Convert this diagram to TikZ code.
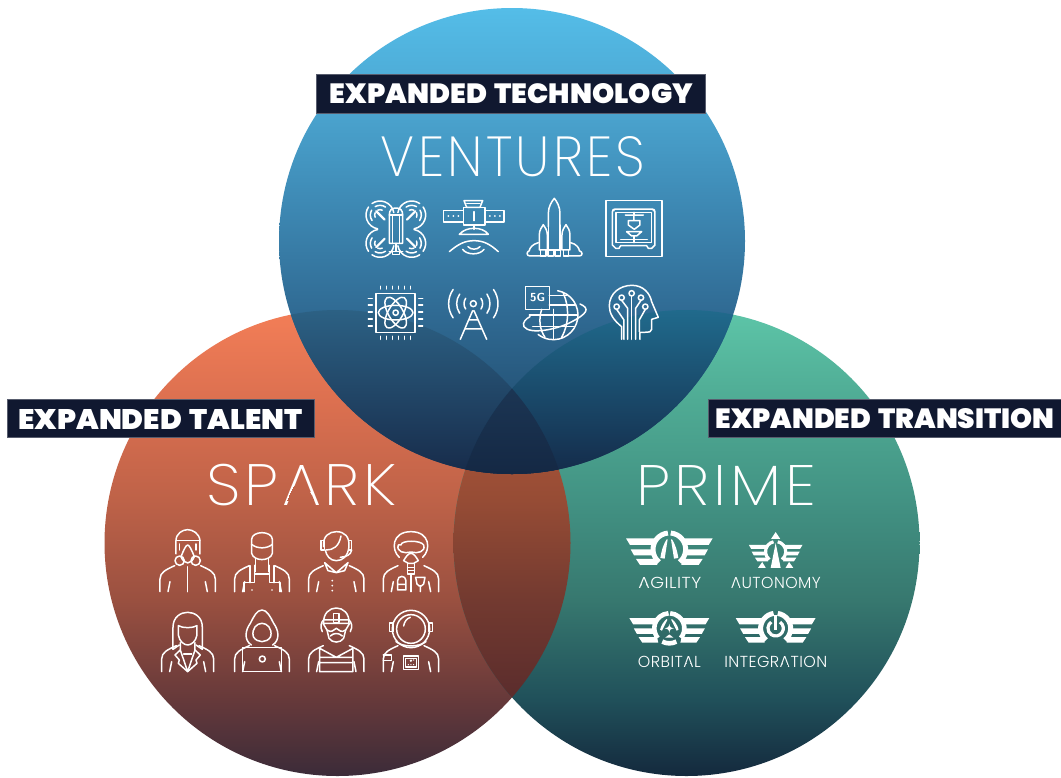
\documentclass[tikz,border=0pt]{standalone}
\usepackage{fontspec}
\usepackage{graphicx}
\usetikzlibrary{calc}
\newfontfamily\heavyfont[WordSpace=1.5]{Poppins Black}
\newfontfamily\thinfont[LetterSpace=6]{Poppins ExtraLight}
\newfontfamily\thinbase{Poppins ExtraLight}
\newfontfamily\smallfont[LetterSpace=3]{Poppins Light}
\newfontfamily\smallbase{Poppins Light}
\newsavebox\Abox\newsavebox\Pbox\newsavebox\Qbox\newsavebox\Wbox
\newlength\AW\newlength\AH\newlength\AT\newlength\APX
% a word whose A has its crossbar cut away by a clip: #1 font, #2 font without spacing, #3 stem (em), #4 text before the A, #5 text after it
\newcommand\nbword[5]{%
 \sbox\Abox{#2A}\AW=\wd\Abox\AH=\ht\Abox
 \sbox\Pbox{#1#4A}\sbox\Qbox{#1A}\APX=\wd\Pbox\advance\APX by -\wd\Qbox
 \sbox\Wbox{#1#4A#5}{#2\global\AT=#3em\relax}%
 \tikz[baseline=0pt,x=1cm,y=1cm]{%
  \useasboundingbox (0pt,0pt) rectangle ({\wd\Wbox},{\AH});
  \begin{scope}[even odd rule]
  \clip (-5pt,-5pt) rectangle ({\wd\Wbox+5pt},{\AH+5pt})
   ({\APX+.06*\AW+\AT},{.10*\AH}) -- ({\APX+.94*\AW-\AT},{.10*\AH}) -- ({\APX+.76*\AW-\AT},{.48*\AH}) -- ({\APX+.24*\AW+\AT},{.48*\AH}) -- cycle;
  \node[inner sep=0pt,anchor=base west,text=white] at (0pt,0pt) {#1#4A#5};
  \end{scope}}}
\definecolor{lblue}{HTML}{101830}
\definecolor{Tc0}{HTML}{1C385C}\definecolor{Tc1}{HTML}{255478}\definecolor{Tc2}{HTML}{306B94}\definecolor{Tc3}{HTML}{3E8AB5}\definecolor{Tc4}{HTML}{4CA7D2}\definecolor{Tc5}{HTML}{54BDE8}
\definecolor{Lc0}{HTML}{3B2B39}\definecolor{Lc1}{HTML}{66393A}\definecolor{Lc2}{HTML}{9A5040}\definecolor{Lc3}{HTML}{BE6248}\definecolor{Lc4}{HTML}{DC7050}\definecolor{Lc5}{HTML}{F37E57}
\definecolor{Rc0}{HTML}{14293D}\definecolor{Rc1}{HTML}{20505A}\definecolor{Rc2}{HTML}{37786F}\definecolor{Rc3}{HTML}{429283}\definecolor{Rc4}{HTML}{4FAB94}\definecolor{Rc5}{HTML}{5DC5A8}
\definecolor{Xc0}{HTML}{4A2A2C}\definecolor{Xc1}{HTML}{5A2C2C}\definecolor{Xc2}{HTML}{733A30}\definecolor{Xc3}{HTML}{964C35}\definecolor{Xc4}{HTML}{B0563A}\definecolor{Xc5}{HTML}{B0563A}
\definecolor{TLa}{HTML}{2C6184}\definecolor{TLb}{HTML}{172B4A}
\definecolor{TRa}{HTML}{206A8C}\definecolor{TRb}{HTML}{142B4A}
\definecolor{TTa}{HTML}{1C3654}\definecolor{TTb}{HTML}{142844}
\pgfdeclareverticalshading{sTop}{100bp}{color(0bp)=(Tc0);color(25bp)=(Tc0);color(32.9bp)=(Tc1);color(42.6bp)=(Tc2);color(54.4bp)=(Tc3);color(65.1bp)=(Tc4);color(75bp)=(Tc5);color(100bp)=(Tc5)}
\pgfdeclareverticalshading{sLeft}{100bp}{color(0bp)=(Lc0);color(25bp)=(Lc0);color(33.15bp)=(Lc1);color(43.9bp)=(Lc2);color(54.6bp)=(Lc3);color(65.3bp)=(Lc4);color(75bp)=(Lc5);color(100bp)=(Lc5)}
\pgfdeclareverticalshading{sRight}{100bp}{color(0bp)=(Rc0);color(25bp)=(Rc0);color(33.15bp)=(Rc1);color(43.9bp)=(Rc2);color(54.6bp)=(Rc3);color(65.3bp)=(Rc4);color(75bp)=(Rc5);color(100bp)=(Rc5)}
\pgfdeclareverticalshading{sCross}{100bp}{color(0bp)=(Xc0);color(25bp)=(Xc0);color(33.15bp)=(Xc1);color(43.9bp)=(Xc2);color(54.6bp)=(Xc3);color(65.3bp)=(Xc4);color(75bp)=(Xc5);color(100bp)=(Xc5)}
\tikzset{
 ic/.style={draw=white,line width=1.5pt,line cap=round,line join=round},
 fl/.style={fill=white,draw=none},
 banner/.style={fill=lblue,draw=lblue!70!white,line width=.4pt},
 bannertext/.style={text=white,inner sep=0pt},
 title/.style={text=white,inner sep=0pt},
 smalltext/.style={text=white!92!black,inner sep=0pt}
}
\newcommand\shld[2]{%
 \draw[ic] ({-#1},#2) -- ({-#1},{#2-38}) .. controls ({-#1},{#2-58}) and ({-#1+18},{#2-66}) .. ({-#1+44},{#2-78});
 \draw[ic] ({#1},#2) -- ({#1},{#2-38}) .. controls ({#1},{#2-58}) and ({#1-18},{#2-66}) .. ({#1-44},{#2-78});
 \draw[ic] ({-#1+24},#2) -- ({-#1+30},{#2-30});
 \draw[ic] ({#1-24},#2) -- ({#1-30},{#2-30});
}
\newcommand\wings{%
 \fill[fl] (-130,-33)--(-44,-33)--(-44,-13)--(-118,-13)--cycle;
 \fill[fl] (-116,0)--(-44,0)--(-44,18)--(-106,18)--cycle;
 \fill[fl] (-100,29)--(-40,29)--(-36,47)--(-88,47)--cycle;
 \fill[fl] (130,-33)--(44,-33)--(44,-13)--(118,-13)--cycle;
 \fill[fl] (116,0)--(44,0)--(44,18)--(106,18)--cycle;
 \fill[fl] (100,29)--(40,29)--(36,47)--(88,47)--cycle;
}
\begin{document}
\begin{tikzpicture}[x=1pt,y=-1pt]
\useasboundingbox (0,0) rectangle (1061,777);
\fill[white] (0,0) rectangle (1061,777);
% circles
\shade[shading=sLeft] (337.5,543) circle (233);
\shade[shading=sRight] (686.5,543) circle (233);
\begin{scope}
 \clip (337.5,543) circle (233);
 \clip (686.5,543) circle (233);
 \shade[shading=sCross] (300,310) rectangle (800,776);
\end{scope}
\shade[shading=sTop] (512,241) circle (233);
\begin{scope}
 \clip (512,241) circle (233);
 \clip (337.5,543) circle (233);
 \shade[top color=TLa,bottom color=TLb] (250,310) rectangle (600,474);
\end{scope}
\begin{scope}
 \clip (512,241) circle (233);
 \clip (686.5,543) circle (233);
 \shade[top color=TRa,bottom color=TRb] (450,310) rectangle (800,474);
\end{scope}
\begin{scope}
 \clip (512,241) circle (233);
 \clip (337.5,543) circle (233);
 \clip (686.5,543) circle (233);
 \shade[top color=TTa,bottom color=TTb] (400,385) rectangle (620,474);
\end{scope}
% banners
\node[banner,minimum width=389pt,minimum height=39pt,inner sep=0pt] (bTech) at (510.5,93.5) {};
\node[bannertext] (tTech) at (511.5,94) {\resizebox{363pt}{20pt}{\heavyfont EXPANDED TECHNOLOGY}};
\node[banner,minimum width=307pt,minimum height=38pt,inner sep=0pt] (bTal) at (160.5,418.5) {};
\node[bannertext] (tTal) at (160.5,419) {\resizebox{284pt}{20pt}{\heavyfont EXPANDED TALENT}};
\node[banner,minimum width=355pt,minimum height=38pt,inner sep=0pt] (bTra) at (885.5,418.5) {};
\node[bannertext] (tTra) at (885,419) {\resizebox{339pt}{20pt}{\heavyfont EXPANDED TRANSITION}};
% titles
\node[title] (tV) at (513,156.5) {\resizebox{264pt}{40pt}{\thinfont VENTURES}};
\node[title] (tS) at (300,485) {\resizebox{190pt}{40pt}{\nbword{\thinfont}{\thinbase}{.05}{SP}{RK}}};
\node[title] (tP) at (726.5,485) {\resizebox{179pt}{40pt}{\thinfont PRIME}};
% small labels
\node[smalltext] (a1) at (669.5,583) {\resizebox{63pt}{11pt}{\nbword{\smallfont}{\smallbase}{.08}{}{GILITY}}};
\node[smalltext] (a2) at (775.5,583) {\resizebox{90pt}{11pt}{\nbword{\smallfont}{\smallbase}{.08}{}{UTONOMY}}};
\node[smalltext] (a3) at (669,661.5) {\resizebox{63pt}{11pt}{\nbword{\smallfont}{\smallbase}{.08}{ORBIT}{L}}};
\node[smalltext] (a4) at (775.5,661.5) {\resizebox{103pt}{11pt}{\nbword{\smallfont}{\smallbase}{.08}{INTEGR}{TION}}};

%%%%% VENTURES ICONS (zoom units)
\begin{scope}[shift={(350,180)},x=.3333pt,y=-.3333pt]
 % drone
 \foreach \cx/\cy/\b in {90/105/45,185/105/135,90/190/-45,185/190/-135}{
  \draw[ic] (\cx,\cy)++(\b+55:42) arc[start angle=\b+55,end angle=\b+170,radius=42];
  \draw[ic] (\cx,\cy)++(\b-55:42) arc[start angle=\b-55,end angle=\b-170,radius=42];
  \draw[ic] (\cx,\cy)++(\b+100:29) arc[start angle=\b+100,end angle=\b+165,radius=29];
  \draw[ic] (\cx,\cy)++(\b-100:29) arc[start angle=\b-100,end angle=\b-165,radius=29];
  \draw[ic] (\cx,\cy)++(\b+110:16) arc[start angle=\b+110,end angle=\b+160,radius=16];
  \draw[ic] (\cx,\cy)++(\b-110:16) arc[start angle=\b-110,end angle=\b-160,radius=16];
  \draw[ic,line width=2.2pt] (\cx,\cy)++(\b:20) -- ++(\b+180:36);
 }
 \draw[ic] (118,190) -- (118,105) .. controls (118,90) and (125,84) .. (138,84) .. controls (151,84) and (158,90) .. (158,105) -- (158,190) -- cycle;
 \draw[ic] (128,105) -- (128,190) (148,105) -- (148,190) (118,105) -- (158,105);
 \draw[ic] (138,190) -- (138,212) (118,214) -- (158,214) (128,214) -- (128,224) -- (148,224) -- (148,214);
 % satellite
 \draw[ic] (280,91) rectangle (340,126);
 \draw[ic] (405,91) rectangle (462,126);
 \foreach \x in {295,310,325,420,435,450}{\fill[fl] (\x,108) circle (3);}
 \draw[ic] (340,82) rectangle (405,135);
 \draw[ic] (342,62) -- (398,62) -- (390,82) -- (350,82) -- cycle;
 \draw[ic] (350,70) -- (390,70);
 \draw[ic] (372,95) -- (372,122);
 \draw[ic] (372,135) -- (372,148);
 \draw[ic] (328,163) .. controls (340,150) and (355,145) .. (372,145) .. controls (390,145) and (405,150) .. (415,163) -- cycle;
 \draw[ic] (298,215) .. controls (325,192) and (345,182) .. (372,182) .. controls (400,182) and (420,192) .. (445,215);
 \draw[ic] (338,208) .. controls (350,226) and (390,226) .. (402,208);
 \draw[ic] (354,200) .. controls (362,210) and (382,210) .. (390,200);
 % rocket
 \draw[ic] (595,140) -- (595,100) .. controls (595,80) and (605,65) .. (613,55) .. controls (621,65) and (630,80) .. (630,100) -- (630,140);
 \draw[ic] (595,135) -- (595,210) -- (630,210) -- (630,135);
 \foreach \c in {580,648}{
  \draw[ic] ({\c-12},210) -- ({\c-12},165) .. controls ({\c-12},150) and ({\c-5},142) .. (\c,134) .. controls ({\c+5},142) and ({\c+12},150) .. ({\c+12},165) -- ({\c+12},210) -- cycle;
 }
 \foreach \c in {580,602,623,648}{\draw[ic] ({\c-8},210) -- ({\c-8},228) -- ({\c+8},228) -- ({\c+8},210);}
 \draw[ic] (565,188) .. controls (548,192) and (538,205) .. (538,212) .. controls (528,216) and (530,228) .. (540,228) -- (572,228);
 \draw[ic] (662,188) .. controls (680,192) and (688,205) .. (688,212) .. controls (700,216) and (698,228) .. (688,228) -- (656,228);
 % printer
 \draw[ic] (768,62) rectangle (936,229);
 \draw[ic] (787,96) .. controls (787,90) and (790,87) .. (796,87) -- (906,87) .. controls (912,87) and (915,90) .. (915,96) -- (915,195) -- (905,205) -- (895,205) -- (890,197) -- (812,197) -- (807,205) -- (797,205) -- (787,195) -- cycle;
 \draw[ic] (798,97) rectangle (905,188);
 \fill[fl] (792,92) circle (2.5) (910,92) circle (2.5);
 \draw[ic] (826,105) -- (880,105) (852,105) -- (852,120) (835,122) -- (870,122) -- (870,135) -- (853,148) -- (835,135) -- cycle;
 \draw[ic] (852,105) -- (852,97);
 \draw[ic] (830,155) -- (875,155) -- (860,168) -- (845,168) -- cycle;
 \draw[ic] (852,168) -- (852,188);
 \draw[ic] (812,178) -- (892,178);
 % chip
 \draw[ic] (78,340) rectangle (195,458);
 \foreach \x in {92,110,128,146,164,182}{\draw[ic] (\x,319) -- (\x,327);\draw[ic] (\x,469) -- (\x,478);}
 \foreach \y in {355,375,396,417,438}{\draw[ic] (55,\y) -- (67,\y);\draw[ic] (206,\y) -- (218,\y);}
 \foreach \r in {0,60,120}{\begin{scope}[shift={(137,398)},rotate=\r]\draw[ic] (0,0) ellipse (52 and 22);\end{scope}}
 \draw[ic] (137,398) circle (8);
 % tower
 \draw[ic] (370,371) circle (9);
 \foreach \r in {28,50,74}{
  \draw[ic] (370,371)++(-35:\r) arc[start angle=-35,end angle=35,radius=\r];
  \draw[ic] (370,371)++(145:\r) arc[start angle=145,end angle=215,radius=\r];
 }
 \draw[ic] (368,392) -- (331,478) (372,392) -- (410,478) (357,420) -- (383,420) (346,447) -- (395,447);
 % globe
 \draw[ic] (610,405)++(-80:74) arc[start angle=-80,end angle=128,radius=74];
 \draw[ic] (610,388) -- (610,478) (598,375) -- (675,375) (598,346) -- (650,346);
 \draw[ic] (538,405) -- (683,405) (548,440) -- (672,440);
 \draw[ic] (640,340) .. controls (658,380) and (658,430) .. (635,472);
 \draw[ic] (575,388) .. controls (565,420) and (570,450) .. (585,472);
 \draw[ic] (690,372) .. controls (720,385) and (715,400) .. (660,428) .. controls (620,448) and (540,465) .. (522,440) .. controls (515,428) and (530,415) .. (540,410);
 \draw[ic] (527,320) -- (598,320) -- (598,388) -- (527,388) -- cycle;
 \node[text=white,inner sep=0pt] (t5g) at (563,354) {\resizebox{15pt}{!}{\bfseries\sffamily 5G}};
 % head
 \draw[ic] (815,478) -- (815,440) .. controls (790,420) and (778,400) .. (778,378) .. controls (778,340) and (810,316) .. (846,316) .. controls (880,316) and (900,340) .. (905,365) -- (925,412) -- (905,418) -- (905,448) .. controls (905,455) and (900,457) .. (880,457) -- (870,457) -- (870,478);
 \draw[ic] (845,340) circle (8) (815,353) circle (8) (873,353) circle (8) (800,380) circle (8) (886,380) circle (8);
 \draw[ic] (845,348) -- (845,478);
 \draw[ic] (815,361) -- (833,385) -- (833,478);
 \draw[ic] (873,361) -- (857,385) -- (857,478);
 \draw[ic] (800,388) -- (822,420) -- (822,478);
 \draw[ic] (886,388) -- (868,420) -- (868,455);
\end{scope}

%%%%% SPARK ICONS
\begin{scope}[shift={(140,450)},x=.3333pt,y=-.3333pt]
 % hazmat
 \begin{scope}[shift={(143,0)}]
  \shld{83}{425}
  \draw[ic] (-35,312) -- (-35,272) .. controls (-35,250) and (-15,239) .. (0,239) .. controls (15,239) and (35,250) .. (37,272) -- (37,312);
  \draw[ic] (-35,272) -- (37,272);
  \draw[ic] (-25,282) -- (-25,300) (25,282) -- (25,300);
  \draw[ic] (-20,320) .. controls (-12,300) and (-5,285) .. (0,285) .. controls (5,285) and (12,300) .. (20,320) .. controls (10,345) and (-10,345) .. (-20,320);
  \draw[ic] (-24,332) circle (14) (24,332) circle (14);
  \draw[ic] (0,350) -- (0,425);
 \end{scope}
 % worker
 \begin{scope}[shift={(366,0)}]
  \shld{82}{425}
  \draw[ic] (-31,283) -- (-31,268) .. controls (-31,255) and (-15,248) .. (0,248) .. controls (15,248) and (31,255) .. (31,268) -- (31,283) .. controls (15,297) and (-15,297) .. (-31,283) -- cycle;
  \draw[ic] (-31,283) -- (-31,310) .. controls (-25,335) and (25,335) .. (31,310) -- (31,283);
  \draw[ic] (-20,325) -- (-20,365) (20,325) -- (20,365) (-36,347) -- (-36,398) (36,347) -- (36,398);
  \draw[ic] (-54,425) -- (-54,398) -- (-22,398) -- (-22,346) (54,425) -- (54,398) -- (22,398) -- (22,346);
  \draw[ic] (-22,372) -- (22,372);
  \fill[fl] (-30,420) circle (2.5) (30,420) circle (2.5);
 \end{scope}
 % headset
 \begin{scope}[shift={(589,0)}]
  \shld{83}{425}
  \draw[ic] (-38,290) .. controls (-42,258) and (-20,245) .. (0,245) .. controls (25,245) and (40,260) .. (38,290) .. controls (35,318) and (20,332) .. (0,332) .. controls (-18,332) and (-30,318) .. (-33,300);
  \draw[ic] (-30,300) .. controls (-10,300) and (8,290) .. (14,258);
  \draw[ic] (-46,272) rectangle (-36,300);
  \draw[ic] (36,272) rectangle (46,300);
  \draw[ic] (46,300) .. controls (44,315) and (30,320) .. (12,322);
  \draw[ic] (-35,338) -- (0,368) -- (35,338) (-35,338) -- (-25,362) -- (0,368) -- (25,362) -- (35,338);
  \foreach \y in {392,407,422}{\fill[fl] (-12,\y) circle (3);}
 \end{scope}
 % pilot
 \begin{scope}[shift={(813,0)}]
  \shld{83}{425}
  \draw[ic] (-35,322) .. controls (-60,300) and (-58,245) .. (0,245) .. controls (58,245) and (60,300) .. (35,322);
  \draw[ic] (-30,285) .. controls (-30,270) and (30,270) .. (38,285) .. controls (45,305) and (20,312) .. (0,306) .. controls (-20,312) and (-45,305) .. (-38,285) -- cycle;
  \draw[ic] (-22,332) .. controls (-15,320) and (-8,310) .. (0,310) .. controls (8,310) and (15,320) .. (22,332) -- (8,340) -- (-8,340) -- cycle;
  \draw[ic] (-10,340) rectangle (10,372);
  \draw[ic] (-10,352) -- (10,352) (-10,362) -- (10,362);
  \draw[ic] (0,372) -- (0,425);
  \draw[ic] (-40,392) .. controls (-40,375) and (-15,375) .. (-15,392) -- (-15,420) -- (-40,420) -- cycle (-40,403) -- (-15,403);
  \draw[ic] (14,382) -- (42,382) -- (38,402) -- (31,408) -- (25,408) -- (18,402) -- cycle (28,408) -- (28,425);
 \end{scope}
 % woman
 \begin{scope}[shift={(143,0)}]
  \shld{78}{665}
  \draw[ic] (-44,598) -- (-44,532) .. controls (-44,500) and (-20,487) .. (0,487) .. controls (20,487) and (44,500) .. (44,532) -- (44,598) -- (25,585);
  \draw[ic] (-44,598) -- (-25,585);
  \draw[ic] (-28,527) -- (-28,555) .. controls (-25,575) and (-10,585) .. (0,585) .. controls (10,585) and (25,575) .. (28,555) -- (28,527) .. controls (15,535) and (-15,535) .. (-28,527);
  \draw[ic] (-22,578) -- (-22,600) -- (0,665) -- (22,600) -- (22,578);
  \draw[ic] (-22,600) -- (-38,615) -- (-25,630) -- (-28,640) -- (0,665) -- (28,640) -- (25,630) -- (38,615) -- (22,600);
  \draw[ic] (-12,612) -- (12,612);
 \end{scope}
 % hacker
 \begin{scope}[shift={(366,0)}]
  \shld{82}{665}
  \draw[ic] (-32,585) .. controls (-55,570) and (-50,540) .. (-35,520) .. controls (-25,500) and (-15,480) .. (0,480) .. controls (15,480) and (25,500) .. (35,520) .. controls (50,540) and (55,570) .. (32,585);
  \draw[ic] (-26,560) .. controls (-32,535) and (-15,520) .. (0,520) .. controls (15,520) and (32,535) .. (26,560) .. controls (15,580) and (-15,580) .. (-26,560) -- cycle;
  \draw[ic] (-58,592) rectangle (58,665);
  \draw[ic] (1,627) circle (9);
 \end{scope}
 % VR
 \begin{scope}[shift={(589,0)}]
  \shld{83}{665}
  \draw[ic] (-38,520) .. controls (-40,490) and (-20,474) .. (0,474) .. controls (20,474) and (40,490) .. (38,520);
  \draw[ic] (-38,510) -- (38,510) (-42,545) .. controls (-50,530) and (-45,515) .. (-38,510) (42,545) .. controls (50,530) and (45,515) .. (38,510);
  \draw[ic] (-8,490) rectangle (8,518);
  \draw[ic] (-40,520) -- (-28,540) .. controls (-15,550) and (-8,540) .. (0,535) .. controls (8,540) and (15,550) .. (28,540) -- (40,520) -- cycle;
  \draw[ic] (-28,540) -- (-22,565) .. controls (-12,580) and (12,580) .. (22,565) -- (28,540);
  \draw[ic] (-18,558) .. controls (-8,548) and (8,548) .. (18,558);
  \draw[ic] (-50,595) -- (0,622) -- (50,595) (-50,622) -- (50,622) (-50,638) -- (50,638) (-50,595) -- (-50,665) (50,595) -- (50,665) (-50,665) -- (50,665);
 \end{scope}
 % astronaut
 \begin{scope}[shift={(813,0)}]
  \shld{83}{665}
  \draw[ic] (0,537) circle (56) (0,537) circle (43);
  \draw[ic] (-22,528) .. controls (-20,515) and (-12,505) .. (-2,502);
  \draw[ic] (-64,519) rectangle (-53,545) (53,519) rectangle (64,545);
  \draw[ic] (-45,575) .. controls (-25,592) and (25,592) .. (45,575);
  \draw[ic] (-23,618) rectangle (23,658) (-16,625) rectangle (16,651);
  \draw[ic] (-83,615) -- (-58,615) -- (-58,632) -- (-83,632);
  \fill[fl] (0,632) circle (4);
  \foreach \x/\y in {8/630,-8/644,0/644,8/644}{\fill[fl] (\x,\y) circle (2);}
 \end{scope}
\end{scope}

%%%%% PRIME EMBLEMS
\begin{scope}[shift={(610,450)},x=.3333pt,y=-.3333pt]
 % agility
 \begin{scope}[shift={(178,298)}]
  \wings
  \draw[white,line width=5pt] (0,0)++(129:49) arc[start angle=129,end angle=265,radius=49];
  \draw[white,line width=5pt] (0,0)++(51:49) arc[start angle=51,end angle=-85,radius=49];
  \fill[fl] (-5,-30) -- (-14,28) -- (-27,26) .. controls (-23,0) and (-16,-18) .. (-8,-30) -- cycle;
  \fill[fl] (5,-30) -- (14,28) -- (27,26) .. controls (23,0) and (16,-18) .. (8,-30) -- cycle;
 \end{scope}
 % autonomy
 \begin{scope}[shift={(497,305)},scale=.62]
  \wings
  \draw[white,line width=3.2pt] (0,0)++(129:49) arc[start angle=129,end angle=258,radius=49];
  \draw[white,line width=3.2pt] (0,0)++(51:49) arc[start angle=51,end angle=-78,radius=49];
  \fill[fl] (0,-95) -- (-22,-62) -- (22,-62) -- cycle;
  \fill[fl] (0,-42) -- (-24,78) -- (24,78) -- cycle;
  \fill[fl] (-65,50) -- (-85,78) -- (-48,78) -- cycle;
  \fill[fl] (65,50) -- (85,78) -- (48,78) -- cycle;
 \end{scope}
 % orbital
 \begin{scope}[shift={(178,535)},scale=.92]
  \wings
  \draw[white,line width=4.6pt] (0,0)++(140:49) arc[start angle=140,end angle=267,radius=49];
  \draw[white,line width=4.6pt] (0,0)++(40:49) arc[start angle=40,end angle=-87,radius=49];
  \draw[white,line width=4.6pt] (0,0)++(62:49) arc[start angle=62,end angle=118,radius=49];
  \fill[fl] (-6,-28) -- (-24,8) -- (-30,4) .. controls (-27,-10) and (-18,-22) .. (-9,-30) -- cycle;
  \fill[fl] (6,-28) -- (24,8) -- (30,4) .. controls (27,-10) and (18,-22) .. (9,-30) -- cycle;
  \fill[fl] (0,-15) .. controls (1.5,-4) and (4,-2) .. (15,0) .. controls (4,2) and (1.5,4) .. (0,15) .. controls (-1.5,4) and (-4,2) .. (-15,0) .. controls (-4,-2) and (-1.5,-4) .. (0,-15);
  \fill[fl] (-13,30) -- (0,20) -- (13,30) -- cycle;
 \end{scope}
 % integration
 \begin{scope}[shift={(497,535)},scale=.92]
  \wings
  \draw[white,line width=5pt] (0,0)++(129:49) arc[start angle=129,end angle=262,radius=49];
  \draw[white,line width=5pt] (0,0)++(51:49) arc[start angle=51,end angle=-82,radius=49];
  \draw[white,line width=3.2pt] (0,0)++(-55:25) arc[start angle=-55,end angle=235,radius=25];
  \draw[white,line width=3.2pt] (0,-42) -- (0,6);
 \end{scope}
\end{scope}
\end{tikzpicture}
\end{document}
